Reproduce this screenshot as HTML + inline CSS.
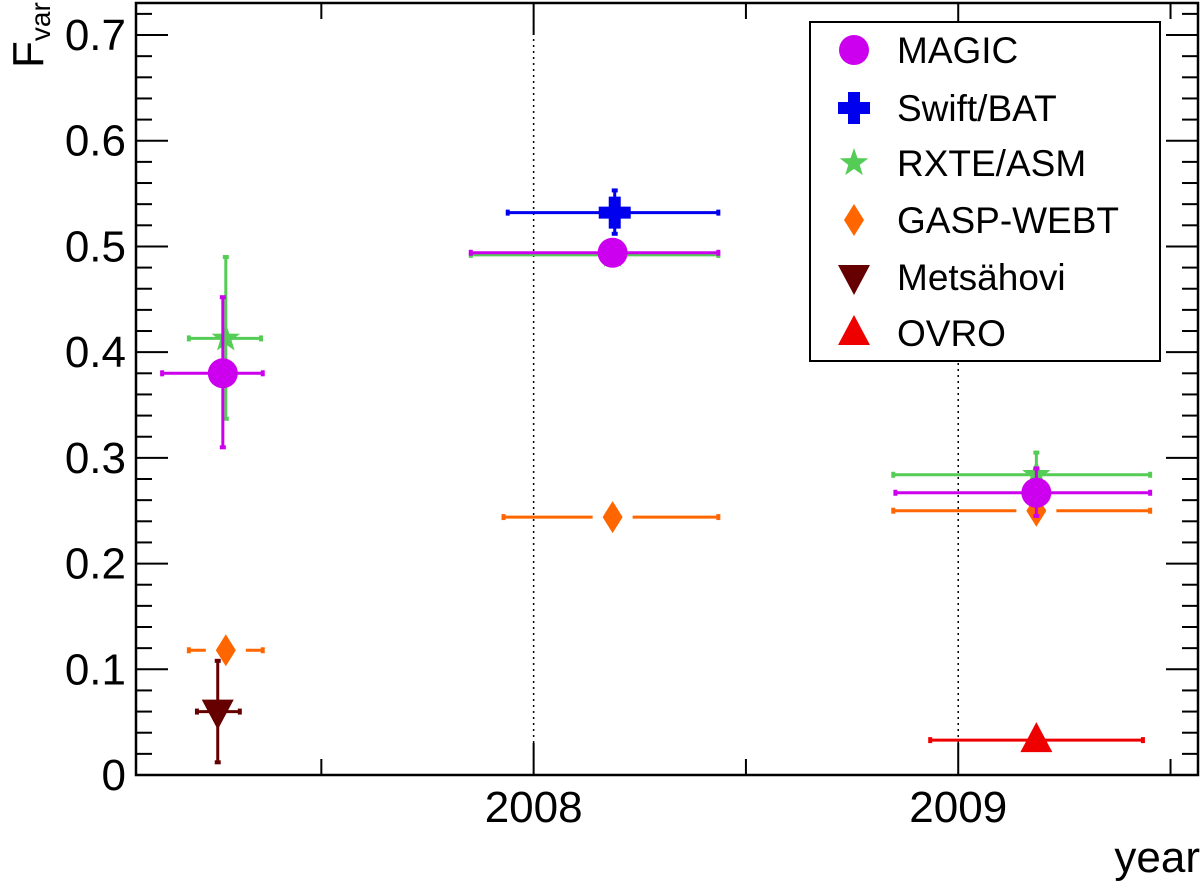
<!DOCTYPE html>
<html><head><meta charset="utf-8"><style>
body{margin:0;background:#fff}
svg{display:block;font-family:"Liberation Sans",Arial,sans-serif}
</style></head><body>
<svg id="c" width="1200" height="882" xmlns="http://www.w3.org/2000/svg"></svg>
<script>
const series = ["MAGIC","Swift/BAT","RXTE/ASM","GASP-WEBT","Metsähovi","OVRO"];
const colors = ["#cc00ee","#0000ee","#55cc55","#ff6600","#660000","#ee0000"];
const markers = ["circle","cross","star","diamond","tdown","tup"];
// per series: [xCenter(year), xLow, xHigh, y, yLow, yHigh]
const magicPts = [[2007.268,2007.125,2007.362,0.380,0.310,0.452],[2008.186,2007.852,2008.435,0.494,0.494,0.494],[2009.184,2008.852,2009.452,0.267,0.245,0.290]];
const swiftPts = [[2008.191,2007.939,2008.435,0.532,0.512,0.553]];
const rxtePts = [[2007.275,2007.188,2007.358,0.413,0.337,0.490],[2008.186,2007.852,2008.435,0.492,0.488,0.496],[2009.184,2008.847,2009.452,0.284,0.265,0.305]];
const gaspPts = [[2007.275,2007.188,2007.362,0.118,0.118,0.118],[2008.186,2007.929,2008.435,0.244,0.244,0.244],[2009.184,2008.847,2009.452,0.250,0.250,0.250]];
const metsPts = [[2007.256,2007.207,2007.308,0.060,0.012,0.108]];
const ovroPts = [[2009.184,2008.934,2009.435,0.033,0.033,0.033]];
const allPts = [magicPts,swiftPts,rxtePts,gaspPts,metsPts,ovroPts];
const drawOrder = [2,3,4,5,1,0];
const yTicks = [0,0.1,0.2,0.3,0.4,0.5,0.6,0.7];
const xTicks = [2008,2009];

const L=136,R=1198,T=3,B=775;
const X0=2007.0635,X1=2009.5647,Y0=0,Y1=0.7303;
const sx=v=>L+(v-X0)/(X1-X0)*(R-L);
const sy=v=>B-(v-Y0)/(Y1-Y0)*(B-T);
const svg=document.getElementById('c');
const NS="http://www.w3.org/2000/svg";
function mk(tag,at,parent){const e=document.createElementNS(NS,tag);for(const k in at)e.setAttribute(k,at[k]);(parent||svg).appendChild(e);return e;}

xTicks.forEach(t=>{const l=mk('line',{x1:sx(t),x2:sx(t),y1:T,y2:B,stroke:'#000','stroke-width':1.5,'stroke-dasharray':'2,4'});

});

const fr=mk('rect',{x:L,y:T,width:R-L,height:B-T,fill:'none',stroke:'#000','stroke-width':2.5});



for(let i=0;i<=36;i++){const v=i*0.02;if(v>Y1)break;const maj=i%5===0;const len=maj?32:16;
 mk('line',{x1:L,x2:L+len,y1:sy(v),y2:sy(v),stroke:'#000','stroke-width':2});
 mk('line',{x1:R,x2:R-len,y1:sy(v),y2:sy(v),stroke:'#000','stroke-width':2});}
yTicks.forEach(t=>{const tx=mk('text',{x:L-10,y:sy(t)+15,'text-anchor':'end','font-size':44});tx.textContent=t===0?'0':t.toFixed(1);

});
for(let v=2007.5;v<X1;v+=0.5){const maj=Math.abs(v-Math.round(v))<1e-6;const len=maj?32:16;
 mk('line',{x1:sx(v),x2:sx(v),y1:B,y2:B-len,stroke:'#000','stroke-width':2});
 mk('line',{x1:sx(v),x2:sx(v),y1:T,y2:T+len,stroke:'#000','stroke-width':2});}
xTicks.forEach(t=>{const tx=mk('text',{x:sx(t),y:822,'text-anchor':'middle','font-size':44});tx.textContent=t;

});
const xt=mk('text',{x:1200,y:872,'text-anchor':'end','font-size':44});xt.textContent='year';


const yt=mk('text',{transform:'translate(43,68) rotate(-90)','font-size':44});yt.innerHTML='F<tspan font-size="28" dy="7">var</tspan>';



function marker(type,x,y,c,parent){
 if(type==='circle')return mk('circle',{cx:x,cy:y,r:15,fill:c},parent);
 if(type==='cross'){const a=16,w=6;return mk('path',{d:`M${x-w},${y-a}h${2*w}v${a-w}h${a-w}v${2*w}h${-(a-w)}v${a-w}h${-2*w}v${-(a-w)}h${-(a-w)}v${-2*w}h${a-w}z`,fill:c},parent);}
 if(type==='star'){let p='';for(let i=0;i<10;i++){const r=i%2?6:15;const an=-Math.PI/2+i*Math.PI/5;p+=(i?'L':'M')+(x+r*Math.cos(an))+','+(y+r*Math.sin(an));}return mk('path',{d:p+'z',fill:c},parent);}
 if(type==='diamond')return mk('path',{d:`M${x},${y-16}L${x+10},${y}L${x},${y+16}L${x-10},${y}z`,fill:c},parent);
 if(type==='tdown')return mk('path',{d:`M${x-16},${y-12}L${x+16},${y-12}L${x},${y+18}z`,fill:c},parent);
 if(type==='tup')return mk('path',{d:`M${x-16},${y+12}L${x+16},${y+12}L${x},${y-18}z`,fill:c},parent);
}

drawOrder.forEach(si=>{
 const g=mk('g',{});
 
 
 const c=colors[si];
 allPts[si].forEach(p=>{
  const [xc,xl,xh,y,yl,yh]=p;const X=sx(xc),Y=sy(y);const gap=markers[si]==='diamond'?20:0;
  const sw=3;
  mk('line',{x1:sx(xl),x2:X-gap,y1:Y,y2:Y,stroke:c,'stroke-width':sw},g);
  mk('line',{x1:X+gap,x2:sx(xh),y1:Y,y2:Y,stroke:c,'stroke-width':sw},g);
  mk('line',{x1:sx(xl),x2:sx(xl),y1:Y-3,y2:Y+3,stroke:c,'stroke-width':4},g);
  mk('line',{x1:sx(xh),x2:sx(xh),y1:Y-3,y2:Y+3,stroke:c,'stroke-width':4},g);
  if(yh>y+1e-9||yl<y-1e-9){
   mk('line',{x1:X,x2:X,y1:sy(yl),y2:sy(yh),stroke:c,'stroke-width':sw},g);
   mk('line',{x1:X-3,x2:X+3,y1:sy(yl),y2:sy(yl),stroke:c,'stroke-width':4},g);
   mk('line',{x1:X-3,x2:X+3,y1:sy(yh),y2:sy(yh),stroke:c,'stroke-width':4},g);}
  const m=marker(markers[si],X,Y,c,g);
  
  
 });
});

const lg=mk('g',{});


mk('rect',{x:810,y:22,width:350,height:339,fill:'#fff',stroke:'#000','stroke-width':2},lg);
const ly=[50,108,163,220,277,333];
series.forEach((n,i)=>{
 const e=mk('g',{},lg);
 
 
 marker(markers[i],854,ly[i],colors[i],e);
 const t=mk('text',{x:897,y:ly[i]+13,'font-size':37},e);t.textContent=n;
});
</script>
</body></html>
